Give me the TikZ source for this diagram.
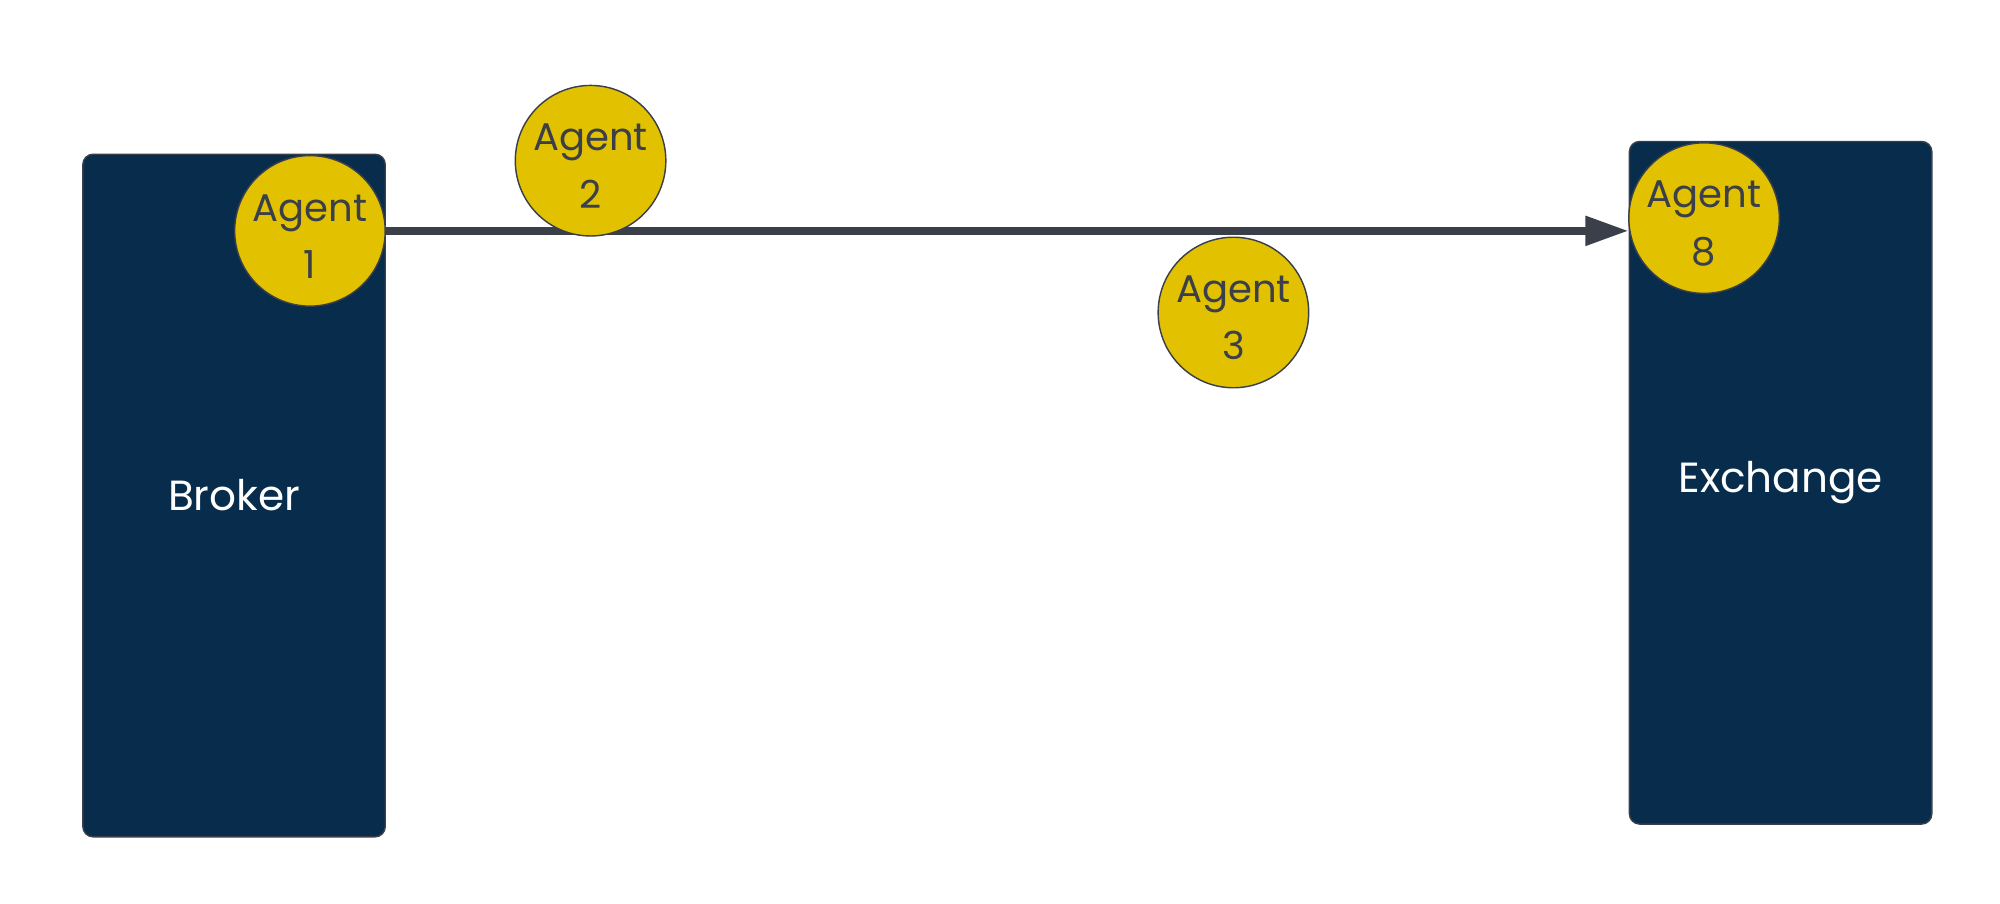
\documentclass[tikz,border=0pt]{standalone}
\usepackage{fontspec}
\setmainfont{Poppins}
\usetikzlibrary{arrows.meta,backgrounds}
\definecolor{navy}{HTML}{082C4B}
\definecolor{gold}{HTML}{E2C200}
\definecolor{slate}{HTML}{3A3F4A}
\newcommand{\agentlabel}[1]{\rule{0pt}{21pt}Agent\\#1}
\begin{document}
\begin{tikzpicture}[x=0.025cm, y=-0.025cm, align=center,
    box/.style={draw=slate, line width=0.8pt, fill=navy, rounded corners=0.2cm,
        minimum width=5.925cm, minimum height=13.375cm, text=white,
        font=\fontsize{23.5}{31}\selectfont},
    agent/.style={circle, draw=slate, line width=0.8pt, fill=gold, minimum size=2.95cm,
        inner sep=0pt, text=slate, font=\fontsize{21.5}{32}\selectfont}]
    \useasboundingbox (0,0) rectangle (1568,708);
    \node[box] at (183.5,388.5) (broker) {Broker};
    \node[box] at (1396,378.5) (exchange) {Exchange};

    \node[agent] at (243,181) (agent1) {\agentlabel{1}};
    \node[agent] at (463,126) (agent2) {\agentlabel{2}};
    \node[agent] at (967,245) (agent3) {\agentlabel{3}};
    \node[agent] at (1336,171) (agent8) {\agentlabel{8}};

    \begin{scope}[on background layer]
    \draw [slate, line width=4.5pt, -{Triangle[length=0.85cm, width=0.55cm]}]
        (agent1.east) -- (agent1.east -| exchange.west);
    \end{scope}
\end{tikzpicture}
\end{document}
